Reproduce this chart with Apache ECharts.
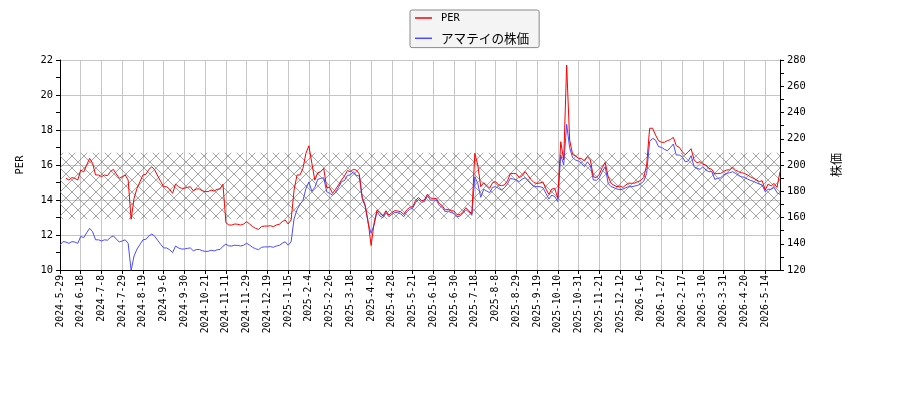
<!DOCTYPE html>
<html>
<head>
<meta charset="utf-8">
<script src="https://cdn.jsdelivr.net/npm/echarts@6/dist/echarts.min.js"></script>
<style>html,body{margin:0;padding:0;background:#fff}#c{width:900px;height:400px}</style>
</head>
<body>
<div id="c"></div>
<script>
// x tick labels (one every 7 samples; samples are every 2nd trading day)
const tickLabels = ['2024-5-29','2024-6-18','2024-7-8','2024-7-29','2024-8-19','2024-9-6','2024-9-30','2024-10-21','2024-11-11','2024-11-29','2024-12-19','2025-1-15','2025-2-4','2025-2-26','2025-3-18','2025-4-8','2025-4-28','2025-5-21','2025-6-10','2025-6-30','2025-7-18','2025-8-8','2025-8-29','2025-9-19','2025-10-10','2025-10-31','2025-11-21','2025-12-12','2026-1-6','2026-1-27','2026-2-17','2026-3-10','2026-3-31','2026-4-20','2026-5-14'];
const tickStep = 7;

const perValues = [null,null,15.24,15.14,15.28,15.24,15.14,15.71,15.6,16.0,16.38,16.1,15.43,15.43,15.33,15.43,15.39,15.62,15.75,15.49,15.24,15.33,15.43,15.14,12.9,14.1,14.67,15.05,15.43,15.47,15.75,15.9,15.71,15.37,15.05,14.76,14.76,14.61,14.38,14.91,14.76,14.67,14.67,14.72,14.76,14.52,14.63,14.63,14.53,14.48,
14.48,14.57,14.51,14.61,14.63,14.9,12.7,12.57,12.57,12.63,12.61,12.57,12.63,12.76,12.63,12.48,12.38,12.32,12.48,12.51,12.51,12.53,12.48,12.57,12.61,12.76,12.86,12.63,12.86,14.57,15.43,15.43,15.81,16.67,17.1,16.1,15.14,15.56,15.62,15.81,14.72,14.72,14.38,14.61,14.86,15.14,15.37,15.68,15.62,15.75,
15.71,15.49,14.15,13.71,12.76,11.4,12.67,13.43,13.24,13.09,13.39,13.14,13.28,13.39,13.37,13.33,13.18,13.43,13.58,13.62,13.96,14.15,13.96,14.0,14.34,14.11,14.09,14.09,13.81,13.68,13.43,13.47,13.39,13.37,13.16,13.16,13.33,13.56,13.39,13.2,16.67,16.0,14.76,14.99,14.84,14.67,14.99,15.05,14.86,14.82,
14.86,15.09,15.5,15.52,15.5,15.28,15.39,15.62,15.39,15.16,14.99,14.95,14.97,15.03,14.63,14.32,14.63,14.65,14.1,17.33,16.29,21.71,17.43,16.61,16.51,16.38,16.38,16.23,16.48,16.29,15.33,15.28,15.47,15.85,16.15,15.33,14.95,14.84,14.76,14.8,14.72,14.86,14.97,14.95,14.97,15.05,15.12,15.29,16.0,18.1,
18.1,17.71,17.39,17.3,17.3,17.39,17.45,17.58,17.1,17.01,16.76,16.59,16.74,16.93,16.29,16.13,16.19,16.04,16.0,15.81,15.75,15.49,15.52,15.52,15.64,15.71,15.73,15.87,15.71,15.62,15.56,15.52,15.43,15.33,15.24,15.16,15.05,15.1,14.57,14.91,14.8,14.95,14.72,15.62];

const priceValues = [139.0,141.6,141.3,140.3,141.6,141.3,140.3,145.6,144.6,148.3,151.8,149.2,143.0,143.0,142.1,143.0,142.7,144.8,146.0,143.6,141.3,142.1,143.0,140.3,119.6,130.7,136.0,139.5,143.0,143.4,146.0,147.4,145.6,142.5,139.5,136.8,136.8,135.4,133.3,138.2,136.8,136.0,136.0,136.5,136.8,134.6,135.6,135.6,134.7,134.2,
134.2,135.1,134.5,135.4,135.6,138.1,139.7,138.3,138.3,138.9,138.7,138.3,138.9,140.4,138.9,137.3,136.2,135.5,137.3,137.6,137.6,137.8,137.3,138.3,138.7,140.4,141.5,138.9,141.5,159,166,170,173,182,187,180,183,189.1,189.8,190.3,179.7,178.4,177.1,178.9,183,187.3,188.1,192.1,192.4,194.9,
192.1,191.6,174.6,168.3,155.6,148,154.3,164.4,161.1,159.9,163.9,160.6,162.4,163.9,163.7,162.7,160.6,164.2,166.2,167,171.3,173.8,171.6,172.1,176.6,173.3,173.3,173.3,169.3,167.7,164.4,164.9,163.7,163.2,160.6,161.1,163.2,166,164.2,161.6,191,186,175.4,181.5,180.2,178.9,183,183.5,182.2,180.9,
182.7,185.5,189.8,189.3,188.6,187.3,189.3,190.3,187.8,185.3,183.5,183.5,183.5,182.7,178.4,174.1,177.1,175.9,172.1,207.6,200,231,213.2,205.6,203.8,203,201.3,198.7,202.5,199.5,188.6,188.3,190.3,194.9,198.7,186,183.5,182.7,181.7,181.2,181.7,182.7,183.5,183.5,184,184.5,185.8,187.6,193.6,217.8,
220.3,219,214,213.5,211.9,210.9,213.2,216,207.6,207.6,206.3,202.5,203,207.1,198.7,197.5,196.7,198.7,196.2,194.9,194.9,189.1,189.8,190.3,192.4,193.6,194.1,194.9,193.6,191.9,191.1,190.6,189.3,188.3,187.5,186.5,185.5,184.8,179.7,181.5,181.5,183,178.9,177.6];

const bandRange = [12.9, 16.7];
const seriesNames = ['PER', 'アマテイの株価'];

const cats = perValues.map((_, i) => i % tickStep === 0 ? tickLabels[i / tickStep] : '_' + i);

function hatchPattern() {
  const s = 12, c = document.createElement('canvas');
  c.width = s; c.height = s;
  const g = c.getContext('2d');
  g.strokeStyle = 'rgba(95,95,95,0.7)';
  g.lineWidth = 0.8;
  g.beginPath();
  g.moveTo(0, 0); g.lineTo(s, s);
  g.moveTo(s, 0); g.lineTo(0, s);
  g.stroke();
  return c;
}

const mono = "'DejaVu Sans Mono', monospace";
const jp = "'Noto Sans CJK JP', sans-serif";
const grid = '#c6c6c6';

const chart = echarts.init(document.getElementById('c'), null, {renderer: 'canvas'});
chart.setOption({
  animation: false,
  backgroundColor: '#fff',
  textStyle: {fontFamily: mono},
  legend: {
    orient: 'vertical', left: 410, top: 10,
    padding: [3, 10, 3, 5], itemGap: 9,
    itemWidth: 17, itemHeight: 1.5, icon: 'rect',
    backgroundColor: '#f4f4f4', borderColor: '#8a8a8a', borderWidth: 1, borderRadius: 2,
    data: seriesNames,
    formatter: n => n === 'PER' ? '{a|' + n + '}' : '{b|' + n + '}',
    textStyle: {
      color: '#000', padding: [0, 0, 0, 4],
      rich: {
        a: {fontFamily: mono, fontSize: 10.4, lineHeight: 14, color: '#000'},
        b: {fontFamily: jp, fontSize: 12.6, lineHeight: 14, color: '#000'}
      }
    }
  },
  grid: {left: 60, right: 120, top: 60, bottom: 130},
  xAxis: {
    type: 'category', data: cats, boundaryGap: false,
    axisLine: {lineStyle: {color: '#000', width: 1}},
    axisTick: {show: true, interval: tickStep - 1, length: 4, lineStyle: {color: '#000'}},
    axisLabel: {interval: tickStep - 1, rotate: 90, fontSize: 9.7, fontFamily: mono, color: '#000', margin: 5,
      formatter: (v, i) => i % tickStep === 0 ? tickLabels[i / tickStep] : ''},
    splitLine: {show: true, interval: tickStep - 1, lineStyle: {color: grid, width: 1}}
  },
  yAxis: [{
    type: 'value', min: 10, max: 22, interval: 2,
    name: 'PER', nameLocation: 'middle', nameGap: 35, nameRotate: 90,
    nameTextStyle: {fontFamily: mono, fontSize: 10.4, color: '#000'},
    axisLine: {show: true, lineStyle: {color: '#000'}},
    axisTick: {show: true, length: 4, lineStyle: {color: '#000'}},
    minorTick: {show: true, splitNumber: 2, length: 4, lineStyle: {color: '#000'}},
    axisLabel: {fontSize: 10.4, fontFamily: mono, color: '#000', margin: 7},
    splitLine: {show: true, lineStyle: {color: grid, width: 1}}
  }, {
    type: 'value', position: 'right', min: 120, max: 280, interval: 20,
    name: '株価', nameLocation: 'middle', nameGap: 50, nameRotate: 90,
    nameTextStyle: {fontFamily: jp, fontSize: 12, color: '#000'},
    axisLine: {show: true, lineStyle: {color: '#000'}},
    axisTick: {show: true, length: 4, lineStyle: {color: '#000'}},
    minorTick: {show: true, splitNumber: 2, length: 4, lineStyle: {color: '#000'}},
    axisLabel: {fontSize: 10.4, fontFamily: mono, color: '#000', margin: 7},
    splitLine: {show: false}
  }],
  series: [{
    name: seriesNames[0], type: 'line', yAxisIndex: 0, data: perValues,
    showSymbol: false, z: 3,
    lineStyle: {color: '#ff0000', width: 1}, itemStyle: {color: '#ff0000'},
    markArea: {
      silent: true,
      itemStyle: {color: {image: hatchPattern(), repeat: 'repeat'}},
      data: [[{yAxis: bandRange[0]}, {yAxis: bandRange[1]}]]
    }
  }, {
    name: seriesNames[1], type: 'line', yAxisIndex: 1, data: priceValues,
    showSymbol: false, z: 2,
    lineStyle: {color: '#4b4bff', width: 1}, itemStyle: {color: '#4b4bff'}
  }]
});
</script>
</body>
</html>
